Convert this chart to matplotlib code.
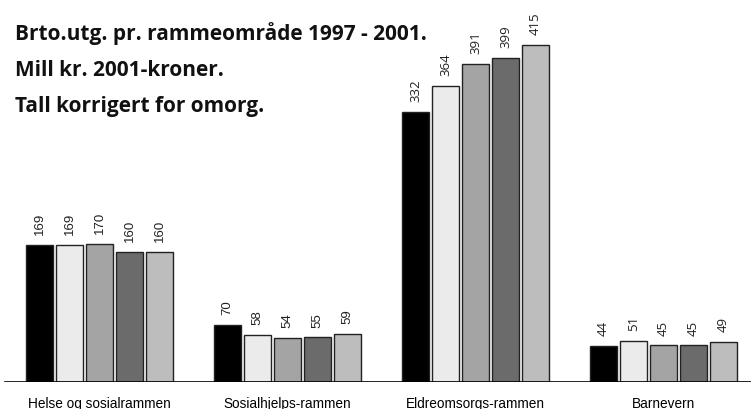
import matplotlib
matplotlib.use("Agg")
import matplotlib.pyplot as plt
import numpy as np

# data
groups = ["Helse og sosialrammen", "Sosialhjelps-rammen", "Eldreomsorgs-rammen", "Barnevern"]
years = ["1997", "1998", "1999", "2000", "2001"]
v1997 = [169, 70, 332, 44]
v1998 = [169, 58, 364, 51]
v1999 = [170, 54, 391, 45]
v2000 = [160, 55, 399, 45]
v2001 = [160, 59, 415, 49]
series = [v1997, v1998, v1999, v2000, v2001]
colors = ["#000000", "#ebebeb", "#a4a4a4", "#6b6b6b", "#bdbdbd"]
label_fonts = ["Liberation Sans", "Liberation Sans", "Open Sans", "Open Sans"]

fig = plt.figure(figsize=(7.51, 4.09), dpi=100)
ax = fig.add_axes([0, 27 / 409, 1, 382 / 409])

step = 188   # group spacing (px units)
first = 26
bw = 27
gap = 30

for i, vals in enumerate(series):
    xs = first + np.arange(len(groups)) * step + i * gap
    ax.bar(xs, vals, width=bw, align="edge", color=colors[i],
           edgecolor="#222222", linewidth=1.0, zorder=2)
    for g, (x, v) in enumerate(zip(xs, vals)):
        ax.text(x + bw / 2, v + 12, str(v), rotation=90, ha="center", va="bottom",
                fontsize=9.5, family=label_fonts[g], color="#222222")

centers = first + np.arange(len(groups)) * step + (4 * gap + bw) / 2
ax.set_xticks(centers)
ax.set_xticklabels(groups, family="Liberation Sans", fontsize=9.8)
ax.tick_params(axis="x", length=0, pad=11)
ax.set_yticks([])
ax.set_xlim(0, 751)
ax.set_ylim(0, 470)
for s in ax.spines.values():
    s.set_visible(False)
ax.axhline(0, xmin=5 / 751, xmax=1, color="black", linewidth=1.2, zorder=3)

title_lines = ["Brto.utg. pr. rammeområde 1997 - 2001.", "Mill kr. 2001-kroner.", "Tall korrigert for omorg."]
for k, t in enumerate(title_lines):
    fig.text(15 / 751, 1 - (40 + k * 36) / 409, t, fontsize=15, fontweight="bold",
             family="Open Sans", ha="left", va="baseline", color="#111111")

fig.savefig("out.png", dpi=100)
